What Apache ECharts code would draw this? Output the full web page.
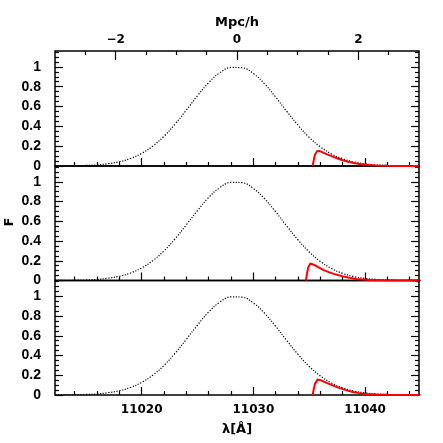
<!DOCTYPE html>
<html>
<head>
<meta charset="utf-8">
<style>html,body{margin:0;padding:0;background:#fff}#c{width:443px;height:443px}</style>
<script src="https://cdn.jsdelivr.net/npm/echarts@6/dist/echarts.min.js"></script>
</head>
<body>
<div id="c"></div>
<script>
// ---- data ----
const lambdaGrid = [11012,11013,11014,11015,11016,11017,11018,11019,11020,11021,11022,11023,11024,11025,11026,11027,11028,11029,11030,11031,11032,11033,11034,11035,11036,11037,11038,11039,11040,11041,11042,11043,11044,11045];
const fluxDotted = [0.0004,0.001,0.0024,0.0054,0.011,0.023,0.043,0.076,0.127,0.201,0.300,0.424,0.564,0.709,0.841,0.941,0.994,0.991,0.933,0.829,0.695,0.550,0.411,0.289,0.193,0.121,0.072,0.040,0.021,0.0105,0.005,0.0022,0.0009,0.0003];

const redLambda1 = [11035.3,11035.5,11035.7,11035.9,11036.2,11036.6,11037.0,11037.5,11038.0,11038.5,11039.0,11039.5,11040.0,11041.0,11042.0,11043.0,11044.0,11044.8];
const redFlux1   = [0,0.11,0.15,0.152,0.137,0.117,0.099,0.078,0.058,0.042,0.030,0.020,0.012,0.005,0.002,0.0008,0.0003,0.0001];

const redLambda2 = [11034.7,11034.9,11035.1,11035.4,11035.8,11036.3,11036.8,11037.4,11038.0,11038.6,11039.2,11039.8,11040.5,11041.5,11043.0,11044.0,11044.8];
const redFlux2   = [0,0.13,0.172,0.16,0.135,0.105,0.082,0.060,0.042,0.027,0.016,0.009,0.004,0.0015,0.0005,0.0002,0.0001];

const redLambda3 = [11035.3,11035.5,11035.75,11036.0,11036.4,11037.1,11037.6,11038.2,11038.9,11039.5,11040.0,11041.0,11042.0,11043.0,11044.0,11044.8];
const redFlux3   = [0,0.11,0.156,0.15,0.13,0.098,0.075,0.052,0.031,0.019,0.011,0.005,0.002,0.0008,0.0003,0.0001];

const xMajorTicks = [11020,11030,11040];
const xMinorTicks = [11014,11016,11018,11022,11024,11026,11028,11032,11034,11036,11038,11042,11044];
const topMajorTicks = [-2,0,2];
const topMinorTicks = [-2.5,-1.5,-1,-0.5,0.5,1,1.5,2.5];
const yMajorTicks = [0,0.2,0.4,0.6,0.8,1];
const yMinorTicks = [0.05,0.1,0.15,0.25,0.3,0.35,0.45,0.5,0.55,0.65,0.7,0.75,0.85,0.9,0.95,1.05,1.1,1.15];

// ---- layout ----
const X_MIN = 11012.24, X_MAX = 11044.83;
const TOP_MIN = -3, TOP_MAX = 3;
const Y_MIN = 0, Y_MAX = 1.16;
const grids = [
  {left:55, right:24, top:51, height:115},
  {left:55, right:24, top:166, height:114.5},
  {left:55, right:24, top:280.5, height:114.5}
];
const yFont = {fontFamily:'Liberation Sans', fontWeight:'bold', fontSize:14, color:'#000'};
const xFont = {fontFamily:'DejaVu Sans', fontWeight:'bold', fontSize:12, color:'#000'};
const LONG = 8, SHORT = 4;

function zip(a,b){ return a.map((v,i)=>[v,b[i]]); }

const xAxes = [], yAxes = [], series = [];
const redSets = [[redLambda1,redFlux1],[redLambda2,redFlux2],[redLambda3,redFlux3]];
const tickStyle = {color:'#000', width:1.2};

grids.forEach((g, gi) => {
  const baseX = xAxes.length;
  xAxes.push({
    type:'value', gridIndex:gi, position:'bottom', min:X_MIN, max:X_MAX,
    axisLine:{show:false, onZero:false}, splitLine:{show:false},
    axisTick:{show:true, inside:true, length:LONG, customValues:xMajorTicks, lineStyle:tickStyle},
    axisLabel:{show: gi===2, customValues:xMajorTicks, margin:9, ...xFont, formatter: v => String(v)}
  });
  xAxes.push({
    type:'value', gridIndex:gi, position:'bottom', min:X_MIN, max:X_MAX,
    axisLine:{show:false, onZero:false}, splitLine:{show:false},
    axisTick:{show:true, inside:true, length:SHORT, customValues:xMinorTicks, lineStyle:tickStyle},
    axisLabel:{show:false}
  });
  if (gi === 0) {
    xAxes.push({
      type:'value', gridIndex:gi, position:'top', min:TOP_MIN, max:TOP_MAX,
      axisLine:{show:false, onZero:false}, splitLine:{show:false},
      axisTick:{show:true, inside:true, length:LONG+1, customValues:topMajorTicks, lineStyle:tickStyle},
      axisLabel:{show:true, customValues:topMajorTicks, margin:5, ...xFont,
        formatter: v => (v < 0 ? '\u2212' + Math.abs(v) : String(v))}
    });
    xAxes.push({
      type:'value', gridIndex:gi, position:'top', min:TOP_MIN, max:TOP_MAX,
      axisLine:{show:false, onZero:false}, splitLine:{show:false},
      axisTick:{show:true, inside:true, length:SHORT, customValues:topMinorTicks, lineStyle:tickStyle},
      axisLabel:{show:false}
    });
  }
  const baseY = yAxes.length;
  ['left','right'].forEach(pos => {
    yAxes.push({
      type:'value', gridIndex:gi, position:pos, min:Y_MIN, max:Y_MAX,
      axisLine:{show:false, onZero:false}, splitLine:{show:false},
      axisTick:{show:true, inside:true, length:LONG, customValues:yMajorTicks, lineStyle:tickStyle},
      axisLabel:{show: pos==='left', customValues:yMajorTicks, margin:14, ...yFont}
    });
    yAxes.push({
      type:'value', gridIndex:gi, position:pos, min:Y_MIN, max:Y_MAX,
      axisLine:{show:false, onZero:false}, splitLine:{show:false},
      axisTick:{show:true, inside:true, length:SHORT, customValues:yMinorTicks, lineStyle:tickStyle},
      axisLabel:{show:false}
    });
  });
  series.push({
    type:'line', xAxisIndex:baseX, yAxisIndex:baseY, data:zip(lambdaGrid, fluxDotted),
    smooth:0.4, symbol:'none', clip:true, z:2,
    lineStyle:{color:'#000', width:1.2, type:[1.2,1.6]}
  });
  series.push({
    type:'line', xAxisIndex:baseX, yAxisIndex:baseY, data:zip(redSets[gi][0], redSets[gi][1]),
    smooth:false, symbol:'none', clip:true, z:3,
    lineStyle:{color:'#ff0000', width:2}
  });
});

const chart = echarts.init(document.getElementById('c'), null, {renderer:'canvas'});
chart.setOption({
  backgroundColor:'#fff',
  animation:false,
  grid: grids.map(g => ({...g, show:true, borderColor:'#000', borderWidth:1.5, backgroundColor:'transparent'})),
  xAxis: xAxes,
  yAxis: yAxes,
  series: series,
  graphic: [
    {type:'text', x:237, y:23, style:{text:'Mpc/h', align:'center', verticalAlign:'middle', font:'bold 13px "DejaVu Sans"', fill:'#000'}},
    {type:'text', x:237, y:430, style:{text:'\u03bb[\u00c5]', align:'center', verticalAlign:'middle', font:'bold 13px "DejaVu Sans"', fill:'#000'}},
    {type:'text', x:10, y:222, rotation:Math.PI/2, style:{text:'F', align:'center', verticalAlign:'middle', font:'bold 13px "DejaVu Sans"', fill:'#000'}}
  ]
});
</script>
</body>
</html>
